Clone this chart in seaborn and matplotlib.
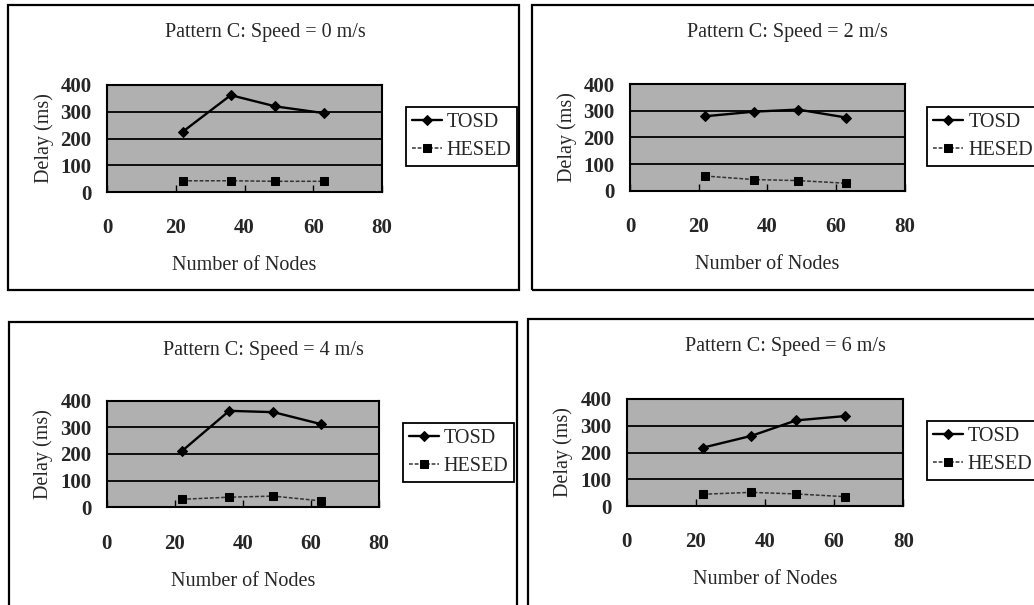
import numpy as np
import pandas as pd
import matplotlib
matplotlib.use("Agg")
import matplotlib.pyplot as plt
from matplotlib.patches import Rectangle
import seaborn as sns

# Node counts used in every scenario
nodes = [22, 36, 49, 63]

# Delay (ms) per mobility speed
speeds = ["0", "2", "4", "6"]
tosd_0 = [225, 362, 320, 295]
hesed_0 = [42, 42, 40, 40]
tosd_2 = [280, 297, 305, 275]
hesed_2 = [55, 42, 38, 28]
tosd_4 = [210, 362, 357, 312]
hesed_4 = [30, 38, 42, 24]
tosd_6 = [218, 262, 320, 336]
hesed_6 = [44, 51, 45, 35]

x_ticks = [0, 20, 40, 60, 80]
y_ticks = [0, 100, 200, 300, 400]

sns.set_style("white")
plt.rcParams["font.family"] = ["Liberation Serif", "DejaVu Serif"]
plt.rcParams["mathtext.default"] = "regular"

W, H = 1034, 605
fig = plt.figure(figsize=(W / 100, H / 100), dpi=100)
fig.patch.set_facecolor("white")


def px_axes(x0, y0, x1, y1):
    return fig.add_axes([x0 / W, 1 - y1 / H, (x1 - x0) / W, (y1 - y0) / H])


def px_box(x0, y0, x1, y1):
    fig.add_artist(Rectangle((x0 / W, 1 - y1 / H), (x1 - x0) / W, (y1 - y0) / H,
                             transform=fig.transFigure, fill=False,
                             ec="black", lw=1.6, zorder=10))


panels = [
    # speed, tosd, hesed, axes box, outer box, title pos, legend anchor
    (speeds[0], tosd_0, hesed_0, (107, 85, 382, 192), (8, 5, 519, 290), (265, 32), (405.5, 106.5)),
    (speeds[1], tosd_2, hesed_2, (630, 84.3, 904.5, 190.7), (531.5, 5, 1040, 290), (787, 32), (927, 107)),
    (speeds[2], tosd_4, hesed_4, (106.7, 400.7, 379, 507.3), (9, 321.7, 516.7, 612), (263, 350), (402.5, 423)),
    (speeds[3], tosd_6, hesed_6, (626.7, 399, 903.3, 506), (528, 319.3, 1040, 612), (785, 346), (926.5, 420.5)),
]

fs_title = 14.5
fs_tick = 15
fs_label = 14.5
fs_leg = 14.5
for speed, tosd, hesed, abox, obox, tpos, lpos in panels:
    px_box(*obox)
    ax = px_axes(*abox)
    ax.set_facecolor("#b0b0b0")

    df = pd.DataFrame({"nodes": nodes, "TOSD": tosd, "HESED": hesed})
    sns.lineplot(data=df, x="nodes", y="TOSD", ax=ax, color="black", lw=1.7,
                 marker="D", markersize=5.5, markeredgecolor="black",
                 label="TOSD", zorder=4)
    sns.lineplot(data=df, x="nodes", y="HESED", ax=ax, color="#333333", lw=1.1,
                 linestyle=(0, (2.5, 1.2)), marker="s", markersize=6,
                 markeredgecolor="black", markerfacecolor="black",
                 label="HESED", zorder=4)

    ax.set_xlim(0, 80)
    ax.set_ylim(0, 400)
    ax.set_xticks(x_ticks)
    ax.set_yticks(y_ticks)
    ax.set_xticklabels([str(v) for v in x_ticks], fontsize=fs_tick, fontweight="bold")
    ax.set_yticklabels([str(v) for v in y_ticks], fontsize=fs_tick, fontweight="bold")
    ax.tick_params(axis="x", direction="in", length=5, width=1, pad=19,
                   bottom=True, color="black")
    ax.tick_params(axis="y", length=0, pad=11)
    for yv in [100, 200, 300]:
        ax.axhline(yv, color="black", lw=1.3, zorder=2)
    for s in ax.spines.values():
        s.set_visible(True)
        s.set_color("black")
        s.set_linewidth(1.5)
    ax.grid(False)

    ax.set_xlabel("Number of Nodes", fontsize=fs_label, labelpad=13)
    ax.set_ylabel("Delay (ms)", fontsize=fs_label, labelpad=5)

    fig.text(tpos[0] / W, 1 - tpos[1] / H, f"Pattern C: Speed = {speed} m/s",
             fontsize=fs_title, ha="center", va="center")

    leg = ax.legend(loc="upper left", bbox_to_anchor=(lpos[0] / W, 1 - lpos[1] / H),
                    bbox_transform=fig.transFigure, borderaxespad=0,
                    fontsize=fs_leg, frameon=True, fancybox=False, framealpha=1,
                    edgecolor="black", handlelength=1.5, handletextpad=0.25,
                    borderpad=0.3, labelspacing=0.45)
    leg.get_frame().set_linewidth(1.3)

fig.savefig("out.png", dpi=100)
